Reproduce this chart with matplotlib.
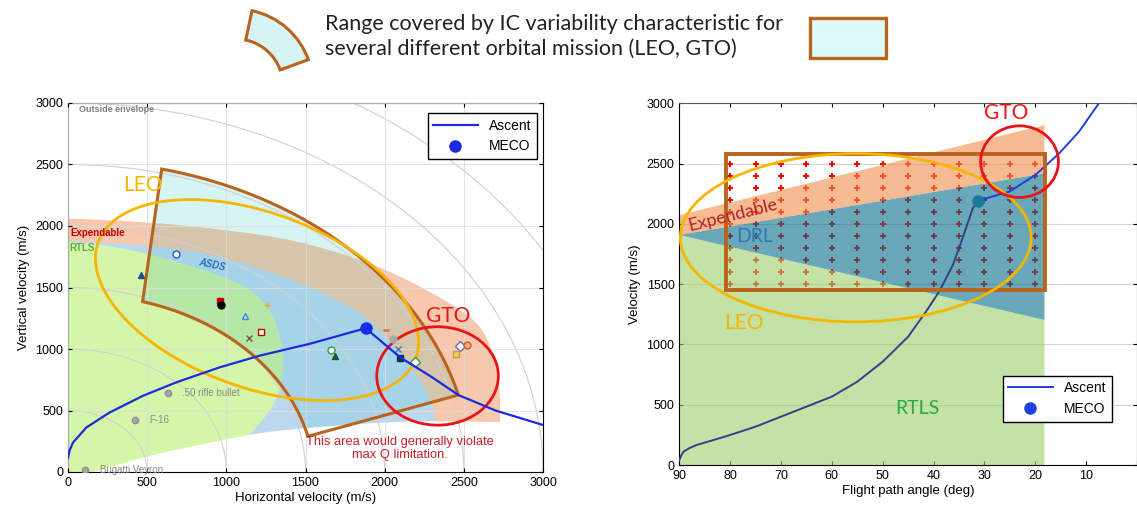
import numpy as np
import matplotlib
matplotlib.use("Agg")
import matplotlib.pyplot as plt
from matplotlib.path import Path
from matplotlib.patches import PathPatch, Polygon, Ellipse, Rectangle, Wedge, Circle
from matplotlib.lines import Line2D

plt.rcParams['font.family'] = ['Liberation Sans', 'DejaVu Sans']

# ---------------- left chart data (horizontal / vertical velocity, m/s) ----------------
asc_h = [0, 10, 32, 116, 263, 474, 684, 958, 1211, 1526, 1880]
asc_v = [117, 175, 240, 362, 484, 620, 729, 851, 946, 1042, 1169]
post_h = [1880, 2100, 2300, 2465, 2700, 3000]
post_v = [1169, 930, 770, 626, 500, 382]
meco_h, meco_v = 1880, 1169

# region boundaries
exp_x = [0, 500, 1050, 1450, 1865, 2100, 2300, 2518, 2623, 2686, 2718, 2730, 2730]
exp_y = [2060, 2035, 1960, 1880, 1720, 1590, 1455, 1290, 1154, 965, 775, 585, 400]
asds_x = [0, 300, 600, 1000, 1420, 1840, 2040, 2200, 2300, 2320]
asds_y = [1880, 1860, 1835, 1745, 1565, 1320, 1060, 800, 590, 400]
rtls_x = [0, 300, 640, 950, 1150, 1280, 1345, 1365, 1325, 1200, 1100]
rtls_y = [1873, 1835, 1730, 1605, 1490, 1320, 1100, 860, 590, 370, 250]
maxq_x = [150, 223, 500, 800, 1000, 1200, 1530, 2000, 2300, 2730, 3000]
maxq_y = [0, 22, 130, 215, 265, 318, 362, 405, 415, 405, 405]

# IC range sector corners: top-left, right, bottom, left
sector_x = [592, 2465, 1515, 471]
sector_y = [2463, 626, 290, 1385]

# LEO / GTO marks on the left chart
leo_c = (1194, 1398)
leo_u = (1003, -470)
leo_v = (189, 668)
gto_c = (2334, 781)
gto_w, gto_h = 768, 800

# reference vehicles
ref_x = [463, 680, 958, 964, 1116, 1259, 1217, 1143, 1663, 1686, 2011, 2053, 2084, 2095, 2194, 2474, 2520, 2453]
ref_y = [1599, 1776, 1390, 1354, 1265, 1354, 1142, 1091, 993, 946, 1156, 1082, 1001, 925, 892, 1028, 1036, 960]
ref_mk = ['^', 'o', 's', 'o', '^', '+', 's', 'x', 'o', '^', '_', 'o', 'x', 's', 'D', 'D', 'o', 's']
ref_fc = ['#1f4e8c', 'white', '#c00000', 'black', '#b8e4f4', '#e0b030', 'white', '#7a5a3a', 'white', '#1a5a2a',
          '#d08040', '#a8a8a8', '#4080c0', '#103050', 'white', 'white', '#f2a878', '#f8d050']
ref_ec = ['#1f4e8c', '#3050d0', '#c00000', 'black', '#3a90d0', '#e0b030', '#c00000', '#7a5a3a', '#30a040', '#1a5a2a',
          '#d08040', '#a8a8a8', '#4080c0', '#103050', '#30a040', '#8060c0', '#c06030', '#c0a030']
speed_x = [630, 420, 110]
speed_y = [640, 420, 15]
speed_lbl = ['.50 rifle bullet', 'F-16', 'Bugatti Veyron']

# ---------------- right chart data (flight path angle / velocity) ----------------
fpa_asc = [90, 89.6, 89.2, 88, 86.6, 83.3, 80, 75, 70, 65, 60, 55, 50, 45, 41.5, 38.9, 36.2, 34.3, 32.3, 31.3]
vel_asc = [41, 80, 110, 140, 166, 207, 249, 318, 401, 484, 567, 691, 857, 1064, 1272, 1438, 1659, 1880, 2129, 2190]
fpa_post = [31.3, 29.7, 25.1, 20, 15.3, 11.4, 7.5]
vel_post = [2190, 2212, 2267, 2405, 2585, 2765, 3000]
meco_fpa, meco_vel = 31.3, 2190

region_fpa = [90, 18.2]
rtls_top = [1908, 1203]
drl_top = [1908, 2419]
exp_top = [2073, 2820]

ic_fpa = [80.8, 18.1]
ic_vel = [1451, 2577]
grid_fpa = [80, 75, 70, 65, 60, 55, 50, 45, 40, 35, 30, 25, 20]
grid_vel = [1500, 1600, 1700, 1800, 1900, 2000, 2100, 2200, 2300, 2400, 2500]

leo2_c, leo2_w, leo2_h = (55.3, 1885), 69, 1396
gto2_c, gto2_w, gto2_h = (23.1, 2516), 15.3, 594

BROWN = '#b8641c'
LEO_COL = '#f7b500'
GTO_COL = '#e8141b'


def smooth_region(xs, ys, base=0.0):
    pts = list(zip(xs, ys))
    verts = [pts[0], ((pts[0][0] + pts[1][0]) / 2, (pts[0][1] + pts[1][1]) / 2)]
    codes = [Path.MOVETO, Path.LINETO]
    for i in range(1, len(pts) - 1):
        m = ((pts[i][0] + pts[i + 1][0]) / 2, (pts[i][1] + pts[i + 1][1]) / 2)
        verts += [pts[i], m]
        codes += [Path.CURVE3, Path.CURVE3]
    verts += [pts[-1], (pts[-1][0], base), (pts[0][0], base), pts[0]]
    codes += [Path.LINETO, Path.LINETO, Path.LINETO, Path.CLOSEPOLY]
    return Path(verts, codes)


def arc(x0, y0, x1, y1, n=60):
    r0, r1 = np.hypot(x0, y0), np.hypot(x1, y1)
    t0, t1 = np.arctan2(y0, x0), np.arctan2(y1, x1)
    s = np.linspace(0, 1, n)
    r = r0 + (r1 - r0) * s
    t = t0 + (t1 - t0) * s
    return r * np.cos(t), r * np.sin(t)


fig = plt.figure(figsize=(11.37, 5.13), dpi=100)

# ======================= left chart =======================
ax = fig.add_axes([68 / 1137, 41 / 513, 475 / 1137, 369 / 513])
ax.set_xlim(0, 3000)
ax.set_ylim(0, 3000)

ox, oy = arc(sector_x[0], sector_y[0], sector_x[1], sector_y[1])
ix, iy = arc(sector_x[2], sector_y[2], sector_x[3], sector_y[3])
sec_verts = list(zip(ox, oy)) + list(zip(ix, iy))
sector_fill = Polygon(sec_verts, closed=True, facecolor='#d7f4f4', edgecolor='none', zorder=0.9)
ax.add_patch(sector_fill)

regions = [(exp_x, exp_y, '#f8c8ae', '#d6c4ab'),
           (asds_x, asds_y, '#bcd8ee', '#a7d3e8'),
           (rtls_x, rtls_y, '#d5f5a8', '#b5e8a6')]
for xs, ys, c_out, c_in in regions:
    p = PathPatch(smooth_region(xs, ys), facecolor=c_out, edgecolor='none', zorder=1)
    ax.add_patch(p)
    p2 = PathPatch(smooth_region(xs, ys), facecolor=c_in, edgecolor='none', zorder=1.05)
    ax.add_patch(p2)
    p2.set_clip_path(sector_fill)
ax.add_patch(PathPatch(smooth_region(maxq_x, maxq_y), facecolor='white', edgecolor='none', zorder=1.1))

for r in [500, 1000, 1500, 2000, 2500, 3000, 3500]:
    ax.add_patch(Circle((0, 0), r, fill=False, edgecolor='#d0d0d0', lw=0.8, zorder=1.5))

ax.add_patch(Polygon(sec_verts, closed=True, fill=False, edgecolor=BROWN, lw=2.2, joinstyle='miter', zorder=3))

t = np.linspace(0, 2 * np.pi, 300)
ax.plot(leo_c[0] + leo_u[0] * np.cos(t) + leo_v[0] * np.sin(t),
        leo_c[1] + leo_u[1] * np.cos(t) + leo_v[1] * np.sin(t), color=LEO_COL, lw=2, zorder=3.2)
ax.add_patch(Ellipse(gto_c, gto_w, gto_h, fill=False, edgecolor=GTO_COL, lw=2, zorder=3.3))

for i in range(len(ref_x)):
    lw = 2.0 if ref_mk[i] == '_' else 1.0
    ax.plot(ref_x[i], ref_y[i], marker=ref_mk[i], ms=5, mfc=ref_fc[i], mec=ref_ec[i], mew=lw, ls='', zorder=4)
ax.plot(speed_x, speed_y, 'o', ms=4.5, mfc='#a8a8a8', mec='#909090', zorder=4)
for i in range(len(speed_x)):
    ax.text(speed_x[i] + 90, speed_y[i], speed_lbl[i], fontsize=7, color='#8a8a8a', va='center', zorder=4)

ax.plot(asc_h, asc_v, color='#1a2be0', lw=1.6, zorder=5)
ax.plot(post_h, post_v, color='#1a2be0', lw=1.6, zorder=5)
ax.plot(meco_h, meco_v, 'o', color='#1a2be0', ms=8, zorder=6)

ax.text(70, 2930, 'Outside envelope', fontsize=6.5, color='#808080', fontweight='bold', zorder=4)
ax.text(15, 1920, 'Expendable', fontsize=7, color='#c00000', fontweight='bold', zorder=4)
ax.text(10, 1800, 'RTLS', fontsize=7, color='#5ab040', fontweight='bold', zorder=4)
ax.text(820, 1640, 'ASDS', fontsize=7, color='#2a70b8', fontweight='bold', style='italic', rotation=-12, zorder=4)
ax.text(2095, 190, 'This area would generally violate\nmax Q limitation.', fontsize=9.3, color='#c0202a',
        ha='center', va='center', linespacing=1.05, zorder=4)
ax.text(350, 2330, 'LEO', fontsize=15, color=LEO_COL, family=['Lato', 'DejaVu Sans'], va='center', zorder=4)
ax.text(2400, 1270, 'GTO', fontsize=15, color=GTO_COL, family=['Lato', 'DejaVu Sans'], ha='center', va='center', zorder=4)

ax.set_axisbelow(False)
ax.grid(True, color='#dcdcdc', lw=0.8, alpha=0.8)
ax.set_xticks([0, 500, 1000, 1500, 2000, 2500, 3000])
ax.set_yticks([0, 500, 1000, 1500, 2000, 2500, 3000])
ax.tick_params(direction='in', top=True, right=True, length=3, labelsize=9)
ax.set_xlabel('Horizontal velocity (m/s)', fontsize=9.5, labelpad=2)
ax.set_ylabel('Vertical velocity (m/s)', fontsize=9.5, labelpad=4)
for s in ax.spines.values():
    s.set_linewidth(0.8)

h1 = [Line2D([], [], color='#1a2be0', lw=1.6, label='Ascent'),
      Line2D([], [], color='#1a2be0', marker='o', ls='', ms=8, label='MECO')]
leg = ax.legend(handles=h1, loc='upper right', bbox_to_anchor=(0.987, 0.973), borderaxespad=0,
                fontsize=10, fancybox=False, edgecolor='black', framealpha=1, handlelength=3.2)
leg.get_frame().set_linewidth(1.0)
leg.set_zorder(10)

# ======================= right chart =======================
ax2 = fig.add_axes([679.3 / 1137, 48 / 513, 457.7 / 1137, 361.7 / 513])
ax2.set_xlim(90, 0.2)
ax2.set_ylim(0, 3000)
ax2.set_axisbelow(True)
ax2.grid(True, axis='y', color='#d4d4d4', lw=0.8)

gx, gy = np.meshgrid(grid_fpa, grid_vel)
ax2.plot(gx.ravel(), gy.ravel(), 'P', ms=3.8, color='#ff0000', mew=0, ls='', zorder=1)

x0, x1 = region_fpa
ax2.add_patch(Polygon([(x0, 0), (x0, rtls_top[0]), (x1, rtls_top[1]), (x1, 0)],
                      facecolor='#9ed069', alpha=0.6, edgecolor='none', zorder=2))
ax2.add_patch(Polygon([(x0, rtls_top[0]), (x1, drl_top[1]), (x1, rtls_top[1])],
                      facecolor='#056f8a', alpha=0.6, edgecolor='none', zorder=2))
ax2.add_patch(Polygon([(x0, drl_top[0]), (x0, exp_top[0]), (x1, exp_top[1]), (x1, drl_top[1])],
                      facecolor='#f08f49', alpha=0.6, edgecolor='none', zorder=2))

ax2.plot(fpa_asc, vel_asc, color='#34408c', lw=1.4, zorder=3)
ax2.plot(fpa_post, vel_post, color='#1f3fe0', lw=1.4, zorder=3)
ax2.plot(meco_fpa, meco_vel, 'o', color='#1b7a9c', ms=8, zorder=4)

ax2.add_patch(Rectangle((ic_fpa[0], ic_vel[0]), ic_fpa[1] - ic_fpa[0], ic_vel[1] - ic_vel[0],
                        fill=False, edgecolor=BROWN, lw=2.8, zorder=5))
ax2.add_patch(Ellipse(leo2_c, leo2_w, leo2_h, fill=False, edgecolor=LEO_COL, lw=2, zorder=5))
ax2.add_patch(Ellipse(gto2_c, gto2_w, gto2_h, fill=False, edgecolor=GTO_COL, lw=2, zorder=5))

lato = ['Lato', 'DejaVu Sans']
ax2.text(25.7, 2917, 'GTO', fontsize=15, color=GTO_COL, family=lato, ha='center', va='center', zorder=6)
ax2.text(77.4, 1180, 'LEO', fontsize=15, color=LEO_COL, family=lato, ha='center', va='center', zorder=6)
ax2.text(79.5, 2075, 'Expendable', fontsize=13, color='#b5202a', family=lato, rotation=14,
         ha='center', va='center', zorder=6)
ax2.text(75.2, 1893, 'DRL', fontsize=14, color='#2a78c0', family=lato, ha='center', va='center', zorder=6)
ax2.text(43.2, 470, 'RTLS', fontsize=14, color='#2aa84a', family=lato, ha='center', va='center', zorder=6)

ax2.set_xticks([90, 80, 70, 60, 50, 40, 30, 20, 10, 0])
ax2.set_xticklabels(['90', '80', '70', '60', '50', '40', '30', '20', '10', ''])
ax2.set_yticks([0, 500, 1000, 1500, 2000, 2500, 3000])
ax2.tick_params(direction='in', top=True, right=True, length=3, labelsize=9)
ax2.set_xlabel('Flight path angle (deg)', fontsize=9.5, labelpad=2)
ax2.set_ylabel('Velocity (m/s)', fontsize=9.5, labelpad=4)
for s in ax2.spines.values():
    s.set_linewidth(0.8)
ax2.spines['top'].set_color('#555555')

h2 = [Line2D([], [], color='#1f3fe0', lw=1.4, label='Ascent'),
      Line2D([], [], color='#1f3fe0', marker='o', ls='', ms=8, label='MECO')]
leg2 = ax2.legend(handles=h2, loc='lower right', bbox_to_anchor=(0.945, 0.12), borderaxespad=0,
                  fontsize=10, fancybox=False, edgecolor='black', framealpha=1, handlelength=3.2)
leg2.get_frame().set_linewidth(1.0)
leg2.set_zorder(10)

# ======================= top key =======================
key = fig.add_axes([0, 0, 1, 1])
key.set_xlim(0, 1137)
key.set_ylim(513, 0)
key.axis('off')
key.add_patch(Wedge((236, 86), 77, -78, -20, width=30, facecolor='#d7f4f4', edgecolor=BROWN, lw=2.2))
key.add_patch(Rectangle((810, 18), 76, 40, facecolor='#dcfafa', edgecolor=BROWN, lw=2.4))
key.text(325, 36, 'Range covered by IC variability characteristic for\nseveral different orbital mission (LEO, GTO)',
         fontsize=15.5, family=lato, color='#222222', va='center', ha='left', linespacing=1.3)

fig.savefig('out.png', dpi=100)
